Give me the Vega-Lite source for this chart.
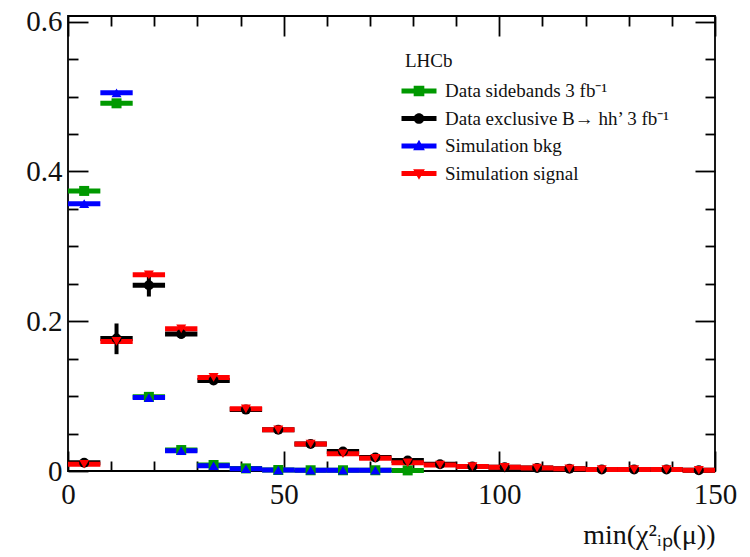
{
  "$schema": "https://vega.github.io/schema/vega-lite/v6.json",
  "width": 647,
  "height": 455,
  "autosize": {"type": "none"},
  "padding": {"left": 68, "top": 16, "right": 35, "bottom": 86},
  "background": "white",
  "config": {
    "view": {"stroke": "#000", "strokeWidth": 1.8},
    "axis": {"grid": false, "domain": false, "tickColor": "#000", "tickWidth": 1.8, "labelFont": "Liberation Serif"},
    "style": {"guide-label": {"font": "Liberation Serif"}, "guide-title": {"font": "Liberation Serif"}}
  },
  "datasets": {
    "d": [
      {"s": "Data sidebands 3 fb⁻¹", "xc": 3.75, "xlo": 0, "xhi": 7.5, "y": 0.374},
      {"s": "Data sidebands 3 fb⁻¹", "xc": 11.25, "xlo": 7.5, "xhi": 15, "y": 0.491},
      {"s": "Data sidebands 3 fb⁻¹", "xc": 18.75, "xlo": 15, "xhi": 22.5, "y": 0.099},
      {"s": "Data sidebands 3 fb⁻¹", "xc": 26.25, "xlo": 22.5, "xhi": 30, "y": 0.028},
      {"s": "Data sidebands 3 fb⁻¹", "xc": 33.75, "xlo": 30, "xhi": 37.5, "y": 0.008},
      {"s": "Data sidebands 3 fb⁻¹", "xc": 41.25, "xlo": 37.5, "xhi": 45, "y": 0.0035},
      {"s": "Data sidebands 3 fb⁻¹", "xc": 48.75, "xlo": 45, "xhi": 52.5, "y": 0.0013},
      {"s": "Data sidebands 3 fb⁻¹", "xc": 56.25, "xlo": 52.5, "xhi": 60, "y": 0.001},
      {"s": "Data sidebands 3 fb⁻¹", "xc": 63.75, "xlo": 60, "xhi": 67.5, "y": 0.001},
      {"s": "Data sidebands 3 fb⁻¹", "xc": 71.25, "xlo": 67.5, "xhi": 75, "y": 0.001},
      {"s": "Data sidebands 3 fb⁻¹", "xc": 78.75, "xlo": 75, "xhi": 82.5, "y": 0.0008},
      {"s": "Data exclusive B→ hh’ 3 fb⁻¹", "xc": 3.75, "xlo": 0, "xhi": 7.5, "y": 0.011, "ylo": 0.007, "yhi": 0.015},
      {"s": "Data exclusive B→ hh’ 3 fb⁻¹", "xc": 11.25, "xlo": 7.5, "xhi": 15, "y": 0.177, "ylo": 0.156, "yhi": 0.197},
      {"s": "Data exclusive B→ hh’ 3 fb⁻¹", "xc": 18.75, "xlo": 15, "xhi": 22.5, "y": 0.248, "ylo": 0.233, "yhi": 0.259},
      {"s": "Data exclusive B→ hh’ 3 fb⁻¹", "xc": 26.25, "xlo": 22.5, "xhi": 30, "y": 0.183, "ylo": 0.177, "yhi": 0.189},
      {"s": "Data exclusive B→ hh’ 3 fb⁻¹", "xc": 33.75, "xlo": 30, "xhi": 37.5, "y": 0.121, "ylo": 0.117, "yhi": 0.125},
      {"s": "Data exclusive B→ hh’ 3 fb⁻¹", "xc": 41.25, "xlo": 37.5, "xhi": 45, "y": 0.082, "ylo": 0.079, "yhi": 0.085},
      {"s": "Data exclusive B→ hh’ 3 fb⁻¹", "xc": 48.75, "xlo": 45, "xhi": 52.5, "y": 0.055, "ylo": 0.052, "yhi": 0.058},
      {"s": "Data exclusive B→ hh’ 3 fb⁻¹", "xc": 56.25, "xlo": 52.5, "xhi": 60, "y": 0.036, "ylo": 0.034, "yhi": 0.038},
      {"s": "Data exclusive B→ hh’ 3 fb⁻¹", "xc": 63.75, "xlo": 60, "xhi": 67.5, "y": 0.026, "ylo": 0.024, "yhi": 0.028},
      {"s": "Data exclusive B→ hh’ 3 fb⁻¹", "xc": 71.25, "xlo": 67.5, "xhi": 75, "y": 0.018, "ylo": 0.016, "yhi": 0.02},
      {"s": "Data exclusive B→ hh’ 3 fb⁻¹", "xc": 78.75, "xlo": 75, "xhi": 82.5, "y": 0.014, "ylo": 0.012, "yhi": 0.016},
      {"s": "Data exclusive B→ hh’ 3 fb⁻¹", "xc": 86.25, "xlo": 82.5, "xhi": 90, "y": 0.009, "ylo": 0.008, "yhi": 0.01},
      {"s": "Data exclusive B→ hh’ 3 fb⁻¹", "xc": 93.75, "xlo": 90, "xhi": 97.5, "y": 0.006},
      {"s": "Data exclusive B→ hh’ 3 fb⁻¹", "xc": 101.25, "xlo": 97.5, "xhi": 105, "y": 0.005},
      {"s": "Data exclusive B→ hh’ 3 fb⁻¹", "xc": 108.75, "xlo": 105, "xhi": 112.5, "y": 0.004},
      {"s": "Data exclusive B→ hh’ 3 fb⁻¹", "xc": 116.25, "xlo": 112.5, "xhi": 120, "y": 0.003},
      {"s": "Data exclusive B→ hh’ 3 fb⁻¹", "xc": 123.75, "xlo": 120, "xhi": 127.5, "y": 0.002},
      {"s": "Data exclusive B→ hh’ 3 fb⁻¹", "xc": 131.25, "xlo": 127.5, "xhi": 135, "y": 0.002},
      {"s": "Data exclusive B→ hh’ 3 fb⁻¹", "xc": 138.75, "xlo": 135, "xhi": 142.5, "y": 0.002},
      {"s": "Data exclusive B→ hh’ 3 fb⁻¹", "xc": 146.25, "xlo": 142.5, "xhi": 150, "y": 0.001},
      {"s": "Simulation bkg", "xc": 3.75, "xlo": 0, "xhi": 7.5, "y": 0.357},
      {"s": "Simulation bkg", "xc": 11.25, "xlo": 7.5, "xhi": 15, "y": 0.505},
      {"s": "Simulation bkg", "xc": 18.75, "xlo": 15, "xhi": 22.5, "y": 0.098},
      {"s": "Simulation bkg", "xc": 26.25, "xlo": 22.5, "xhi": 30, "y": 0.027},
      {"s": "Simulation bkg", "xc": 33.75, "xlo": 30, "xhi": 37.5, "y": 0.007},
      {"s": "Simulation bkg", "xc": 41.25, "xlo": 37.5, "xhi": 45, "y": 0.003},
      {"s": "Simulation bkg", "xc": 48.75, "xlo": 45, "xhi": 52.5, "y": 0.0012},
      {"s": "Simulation bkg", "xc": 56.25, "xlo": 52.5, "xhi": 60, "y": 0.001},
      {"s": "Simulation bkg", "xc": 63.75, "xlo": 60, "xhi": 67.5, "y": 0.001},
      {"s": "Simulation bkg", "xc": 71.25, "xlo": 67.5, "xhi": 75, "y": 0.001},
      {"s": "Simulation signal", "xc": 3.75, "xlo": 0, "xhi": 7.5, "y": 0.009},
      {"s": "Simulation signal", "xc": 11.25, "xlo": 7.5, "xhi": 15, "y": 0.173},
      {"s": "Simulation signal", "xc": 18.75, "xlo": 15, "xhi": 22.5, "y": 0.262},
      {"s": "Simulation signal", "xc": 26.25, "xlo": 22.5, "xhi": 30, "y": 0.19},
      {"s": "Simulation signal", "xc": 33.75, "xlo": 30, "xhi": 37.5, "y": 0.125},
      {"s": "Simulation signal", "xc": 41.25, "xlo": 37.5, "xhi": 45, "y": 0.083},
      {"s": "Simulation signal", "xc": 48.75, "xlo": 45, "xhi": 52.5, "y": 0.055},
      {"s": "Simulation signal", "xc": 56.25, "xlo": 52.5, "xhi": 60, "y": 0.036},
      {"s": "Simulation signal", "xc": 63.75, "xlo": 60, "xhi": 67.5, "y": 0.023},
      {"s": "Simulation signal", "xc": 71.25, "xlo": 67.5, "xhi": 75, "y": 0.017},
      {"s": "Simulation signal", "xc": 78.75, "xlo": 75, "xhi": 82.5, "y": 0.011},
      {"s": "Simulation signal", "xc": 86.25, "xlo": 82.5, "xhi": 90, "y": 0.008},
      {"s": "Simulation signal", "xc": 93.75, "xlo": 90, "xhi": 97.5, "y": 0.006},
      {"s": "Simulation signal", "xc": 101.25, "xlo": 97.5, "xhi": 105, "y": 0.005},
      {"s": "Simulation signal", "xc": 108.75, "xlo": 105, "xhi": 112.5, "y": 0.004},
      {"s": "Simulation signal", "xc": 116.25, "xlo": 112.5, "xhi": 120, "y": 0.003},
      {"s": "Simulation signal", "xc": 123.75, "xlo": 120, "xhi": 127.5, "y": 0.002},
      {"s": "Simulation signal", "xc": 131.25, "xlo": 127.5, "xhi": 135, "y": 0.002},
      {"s": "Simulation signal", "xc": 138.75, "xlo": 135, "xhi": 142.5, "y": 0.002},
      {"s": "Simulation signal", "xc": 146.25, "xlo": 142.5, "xhi": 150, "y": 0.001}
    ]
  },
  "data": {"name": "d"},
  "layer": [
    {
      "mark": {"type": "rule", "strokeWidth": 5},
      "encoding": {
        "x": {"field": "xlo", "type": "quantitative", "scale": {"domain": [0, 150], "nice": false, "zero": false},
          "axis": {"orient": "bottom", "values": [0, 10, 20, 30, 40, 50, 60, 70, 80, 90, 100, 110, 120, 130, 140, 150],
            "tickSize": {"condition": {"test": "datum.value % 50 == 0", "value": -20}, "value": -10},
            "labelExpr": "datum.value % 50 == 0 ? datum.label : ''",
            "labelFont": "Liberation Serif", "labelColor": "#111", "labelFontSize": 29, "labelPadding": 29, "labelFlush": false,
            "title": "min(χ²ᵢₚ(μ))", "titleFont": "Liberation Serif", "titleFontWeight": "normal", "titleColor": "#111", "titleAnchor": "end", "titleFontSize": 28, "titlePadding": 12}},
        "x2": {"field": "xhi"},
        "y": {"field": "y", "type": "quantitative", "scale": {"domain": [0, 0.6076], "nice": false, "zero": false},
          "axis": {"orient": "left", "values": [0, 0.05, 0.1, 0.15, 0.2, 0.25, 0.3, 0.35, 0.4, 0.45, 0.5, 0.55, 0.6],
            "tickSize": {"condition": {"test": "indexof([0, 0.2, 0.4, 0.6], datum.value) >= 0", "value": -20}, "value": -10},
            "labelExpr": "indexof([0, 0.2, 0.4, 0.6], datum.value) < 0 ? '' : (datum.value == 0 ? '0' : format(datum.value, '.1f'))",
            "labelFont": "Liberation Serif", "labelColor": "#111", "labelFontSize": 29, "labelPadding": 26, "labelFlush": false, "title": null}},
        "color": {"field": "s", "type": "nominal", "scale": {"domain": ["Data sidebands 3 fb⁻¹", "Data exclusive B→ hh’ 3 fb⁻¹", "Simulation bkg", "Simulation signal"], "range": ["#009900", "#000000", "#0000ff", "#ff0000"]}, "legend": null}
      }
    },
    {
      "transform": [{"filter": "isValid(datum.ylo)"}],
      "mark": {"type": "rule", "strokeWidth": 4},
      "encoding": {
        "x": {"field": "xc", "type": "quantitative", "scale": {"domain": [0, 150], "nice": false, "zero": false}, "axis": null},
        "y": {"field": "ylo", "type": "quantitative", "scale": {"domain": [0, 0.6076], "nice": false, "zero": false}, "axis": null},
        "y2": {"field": "yhi"},
        "color": {"field": "s", "type": "nominal", "scale": {"domain": ["Data sidebands 3 fb⁻¹", "Data exclusive B→ hh’ 3 fb⁻¹", "Simulation bkg", "Simulation signal"], "range": ["#009900", "#000000", "#0000ff", "#ff0000"]}, "legend": null}
      }
    },
    {
      "mark": {"type": "point", "filled": true, "opacity": 1, "size": 100, "strokeWidth": 0},
      "encoding": {
        "x": {"field": "xc", "type": "quantitative", "scale": {"domain": [0, 150], "nice": false, "zero": false},
          "axis": {"orient": "top", "values": [0, 10, 20, 30, 40, 50, 60, 70, 80, 90, 100, 110, 120, 130, 140, 150],
            "tickSize": {"condition": {"test": "datum.value % 50 == 0", "value": -20}, "value": -10}, "labels": false, "title": null}},
        "y": {"field": "y", "type": "quantitative", "scale": {"domain": [0, 0.6076], "nice": false, "zero": false},
          "axis": {"orient": "right", "values": [0, 0.05, 0.1, 0.15, 0.2, 0.25, 0.3, 0.35, 0.4, 0.45, 0.5, 0.55, 0.6],
            "tickSize": {"condition": {"test": "indexof([0, 0.2, 0.4, 0.6], datum.value) >= 0", "value": -20}, "value": -10}, "labels": false, "title": null}},
        "color": {"field": "s", "type": "nominal", "scale": {"domain": ["Data sidebands 3 fb⁻¹", "Data exclusive B→ hh’ 3 fb⁻¹", "Simulation bkg", "Simulation signal"], "range": ["#009900", "#000000", "#0000ff", "#ff0000"]}, "legend": null},
        "shape": {"field": "s", "type": "nominal", "scale": {"domain": ["Data sidebands 3 fb⁻¹", "Data exclusive B→ hh’ 3 fb⁻¹", "Simulation bkg", "Simulation signal"], "range": ["square", "circle", "triangle-up", "triangle-down"]}, "legend": null}
      }
    },
    {
      "mark": {"type": "point", "filled": true, "opacity": 0},
      "encoding": {
        "x": {"field": "xc", "type": "quantitative", "scale": {"domain": [0, 150], "nice": false, "zero": false}, "axis": null},
        "y": {"field": "y", "type": "quantitative", "scale": {"domain": [0, 0.6076], "nice": false, "zero": false}, "axis": null},
        "color": {"field": "s", "type": "nominal", "scale": {"domain": ["Data sidebands 3 fb⁻¹", "Data exclusive B→ hh’ 3 fb⁻¹", "Simulation bkg", "Simulation signal"], "range": ["#009900", "#000000", "#0000ff", "#ff0000"]},
          "legend": {"title": "LHCb", "orient": "none", "legendX": 337, "legendY": 36, "symbolSize": 784, "symbolStrokeWidth": 0, "symbolOpacity": 1, "labelFont": "Liberation Serif", "labelFontSize": 19, "labelLimit": 400, "labelColor": "#111", "titleFont": "Liberation Serif", "titleFontSize": 19, "titleFontWeight": "normal", "titleColor": "#111", "titlePadding": 6, "rowPadding": 3.5, "labelOffset": 12, "padding": 0}},
        "shape": {"field": "s", "type": "nominal", "scale": {"domain": ["Data sidebands 3 fb⁻¹", "Data exclusive B→ hh’ 3 fb⁻¹", "Simulation bkg", "Simulation signal"], "range": [
            "M-1.25,-0.17H1.25V0.17H-1.25Z M-0.38,-0.38H0.38V0.38H-0.38Z",
            "M-1.25,-0.17H1.25V0.17H-1.25Z M-0.38,0A0.38,0.38 0 1,1 0.38,0A0.38,0.38 0 1,1 -0.38,0Z",
            "M-1.25,-0.17H1.25V0.17H-1.25Z M0,-0.45L0.42,0.3H-0.42Z",
            "M-1.25,-0.17H1.25V0.17H-1.25Z M0,0.45L-0.42,-0.3H0.42Z"
          ]},
          "legend": {"title": "LHCb", "orient": "none", "legendX": 337, "legendY": 36, "symbolSize": 784, "symbolStrokeWidth": 0, "symbolOpacity": 1, "labelFont": "Liberation Serif", "labelFontSize": 19, "labelLimit": 400, "labelColor": "#111", "titleFont": "Liberation Serif", "titleFontSize": 19, "titleFontWeight": "normal", "titleColor": "#111", "titlePadding": 6, "rowPadding": 3.5, "labelOffset": 12, "padding": 0}}
      }
    }
  ],
  "resolve": {
    "axis": {"x": "independent", "y": "independent"},
    "scale": {"color": "independent", "shape": "independent"}
  }
}
